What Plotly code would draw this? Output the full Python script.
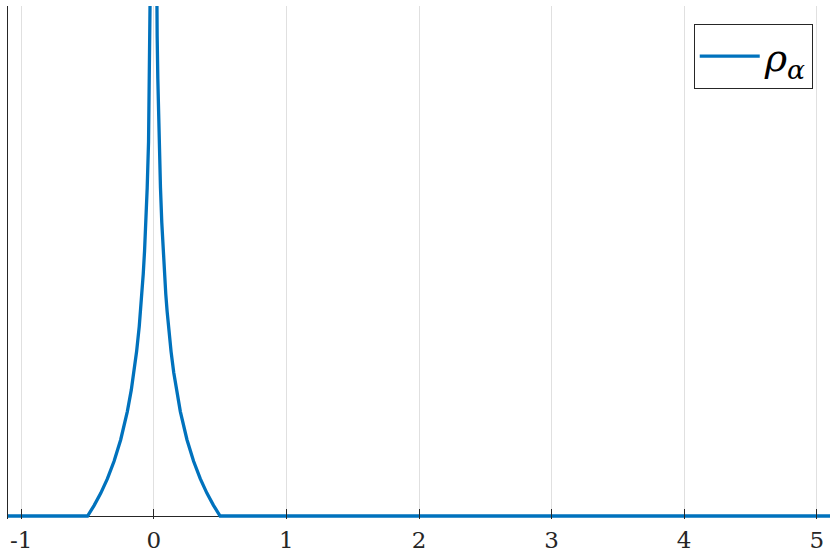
import plotly.graph_objects as go

# curve (x, height); peak at 0 runs off the top
rho_x = [-1.1, -0.5, -0.45, -0.4, -0.35, -0.3, -0.25, -0.2, -0.17, -0.15, -0.13, -0.11, -0.1,
         -0.09, -0.08, -0.07, -0.06, -0.05, -0.04, -0.035, -0.03, -0.025, -0.02, -0.015, -0.01,
         0.0,
         0.01, 0.015, 0.02, 0.025, 0.03, 0.035, 0.04, 0.05, 0.06, 0.07, 0.08, 0.09,
         0.1, 0.11, 0.13, 0.15, 0.17, 0.2, 0.25, 0.3, 0.35, 0.4, 0.45, 0.5, 5.1]
rho_y = [0.0, 0.0, 0.106, 0.229, 0.373, 0.547, 0.763, 1.044, 1.261, 1.435, 1.644, 1.897, 2.048,
         2.22, 2.418, 2.652, 2.934, 3.284, 3.74, 4.028, 4.375, 4.806, 5.367, 6.148, 7.37,
         10.0,
         7.37, 6.148, 5.367, 4.806, 4.375, 4.028, 3.74, 3.284, 2.934, 2.652, 2.418, 2.22,
         2.048, 1.897, 1.644, 1.435, 1.261, 1.044, 0.763, 0.547, 0.373, 0.229, 0.106, 0.0, 0.0]

tick_vals = [-1, 0, 1, 2, 3, 4, 5]
tick_text = ['-1', '0', '1', '2', '3', '4', '5']

serif = 'DejaVu Serif'

fig = go.Figure()
fig.add_trace(go.Scatter(x=rho_x, y=rho_y, mode='lines', name='<i>ρ</i><sub><i>α</i></sub>',
                         line={'color': '#0072BD', 'width': 3.3}))

fig.update_layout(
    width=830, height=554,
    margin={'l': 8, 'r': 0, 't': 6, 'b': 35},
    paper_bgcolor='white', plot_bgcolor='white',
    font={'family': serif, 'size': 23, 'color': '#262626'},
    showlegend=True,
    legend={'x': 0.979, 'xanchor': 'right', 'y': 0.965, 'yanchor': 'top',
            'bordercolor': '#262626', 'borderwidth': 1, 'bgcolor': 'white',
            'font': {'family': serif, 'size': 38, 'color': 'black'}, 'itemwidth': 60},
    xaxis={'range': [-1.1, 5.1], 'tickvals': tick_vals, 'ticktext': tick_text,
           'showgrid': True, 'gridcolor': '#e0e0e0', 'gridwidth': 1,
           'showline': False, 'zeroline': False, 'ticklabelstandoff': 5,
           'ticks': 'inside', 'ticklen': 10, 'tickcolor': '#262626', 'tickwidth': 1},
    yaxis={'range': [-0.03, 5.1], 'showticklabels': False, 'showgrid': False,
           'showline': True, 'linecolor': '#262626', 'linewidth': 1,
           'zeroline': True, 'zerolinecolor': '#262626', 'zerolinewidth': 1,
           'ticks': ''},
)

fig.write_html('out.html', config={'displayModeBar': False},
               post_script="document.body.style.margin = '0';")
